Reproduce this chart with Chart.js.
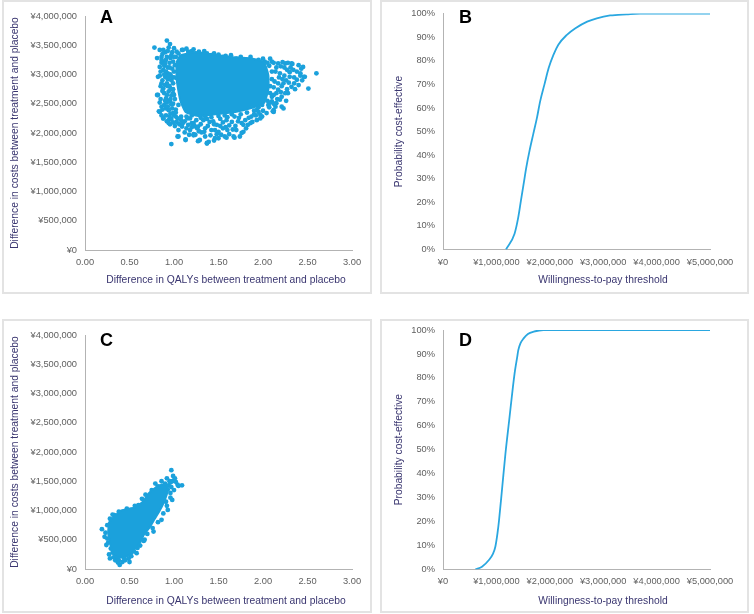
<!DOCTYPE html>
<html><head><meta charset="utf-8">
<script src="https://cdn.jsdelivr.net/npm/chart.js@4.4.1/dist/chart.umd.min.js"></script>
<style>
body{margin:0;background:#fff;}
#root{position:relative;width:754px;height:614px;overflow:hidden;font-family:"Liberation Sans",Arial,sans-serif;}
.box{position:absolute;border:2px solid #e3e3e3;box-sizing:border-box;}
canvas{position:absolute;}
.lbl{position:absolute;font:bold 18px/18px "Liberation Sans",Arial,sans-serif;color:#000;}
.xt{position:absolute;width:300px;text-align:center;font:10.3px/12px "Liberation Sans",Arial,sans-serif;color:#3a3670;white-space:nowrap;}
</style></head>
<body><div id="root">
<div class="box" style="left:2px;top:0px;width:370px;height:294px"></div>
<div class="box" style="left:380px;top:0px;width:369px;height:294px"></div>
<div class="box" style="left:2px;top:319px;width:370px;height:294px"></div>
<div class="box" style="left:380px;top:319px;width:369px;height:294px"></div>
<canvas id="cA" width="377" height="300" style="left:0;top:0"></canvas>
<canvas id="cB" width="377" height="300" style="left:377px;top:0"></canvas>
<canvas id="cC" width="377" height="314" style="left:0;top:300px"></canvas>
<canvas id="cD" width="377" height="314" style="left:377px;top:300px"></canvas>
<div class="lbl" style="left:100px;top:8px">A</div>
<div class="lbl" style="left:459px;top:8px">B</div>
<div class="lbl" style="left:100px;top:331px">C</div>
<div class="lbl" style="left:459px;top:331px">D</div>
<div class="xt" style="left:76px;top:274px">Difference in QALYs between treatment and placebo</div>
<div class="xt" style="left:453px;top:274px">Willingness-to-pay threshold</div>
<div class="xt" style="left:76px;top:595px">Difference in QALYs between treatment and placebo</div>
<div class="xt" style="left:453px;top:595px">Willingness-to-pay threshold</div>
</div>
<script>
// ---- tick labels ----
const qalyTicks = ['0.00','0.50','1.00','1.50','2.00','2.50','3.00'];
const costTicks = ['¥0','¥500,000','¥1,000,000','¥1,500,000','¥2,000,000','¥2,500,000','¥3,000,000','¥3,500,000','¥4,000,000'];
const wtpTicks = ['¥0','¥1,000,000','¥2,000,000','¥3,000,000','¥4,000,000','¥5,000,000'];
const probTicks = ['0%','10%','20%','30%','40%','50%','60%','70%','80%','90%','100%'];

// ---- Panel A: incremental QALYs vs incremental costs (cost in million yen) ----
const aCore = [[1.07,3.33],[1.24,3.38],[1.40,3.35],[1.63,3.30],[1.85,3.28],[2.01,3.21],[2.06,2.99],[2.06,2.74],[2.01,2.51],[1.88,2.43],[1.69,2.36],[1.46,2.32],[1.27,2.29],[1.13,2.36],[1.07,2.56],[1.03,2.91],[1.03,3.21],[1.07,3.33]];
const aCloud = [
[0.92,3.58],[0.955,3.52],[0.94,3.46],[0.78,3.46],[0.84,3.42],[0.86,3.30],[0.88,3.22],[0.84,3.13],[0.88,3.08],[0.82,2.96],[0.90,2.96],[0.92,2.85],[0.88,2.76],[0.94,2.71],[0.82,2.65],[0.91,2.59],[0.955,2.54],[0.86,2.45],[0.94,2.39],[0.84,2.36],[0.99,2.34],[0.88,2.25],[0.94,2.22],[0.955,2.15],[1.03,2.19],[1.09,2.11],[1.14,2.08],[1.05,1.94],[0.97,1.81],[1.13,1.88],[1.22,1.98],[1.27,1.86],[1.35,1.94],[1.37,1.82],[1.20,2.17],[1.26,2.08],[1.01,3.16],[1.03,2.94],[1.00,2.65],[1.05,2.48],[0.97,3.33],[1.03,3.39],[1.09,3.42],[1.16,3.39],[1.24,3.36],[1.31,3.33],[1.37,3.36],
[1.22,2.17],[1.27,2.11],[1.24,1.97],[1.29,1.88],[1.39,1.85],[1.46,1.91],[1.42,2.05],[1.50,2.02],[1.55,2.08],[1.48,2.14],[1.57,1.94],[1.67,1.94],[1.74,1.94],[1.70,2.05],[1.78,2.02],[1.76,2.17],[1.65,2.19],[1.83,2.14],[1.87,2.28],[1.97,2.25],[1.93,2.39],[2.04,2.34],[2.12,2.39],[2.15,2.51],[2.10,2.54],[1.99,2.48],[1.33,2.22],[1.59,2.22],[1.40,2.19],
[2.60,3.02],[2.45,3.13],[2.40,3.16],[2.32,3.19],[2.25,3.19],[2.17,3.19],[2.10,3.22],[2.02,3.22],[1.95,3.25],[2.51,2.76],[2.47,2.96],[2.42,3.02],[2.38,2.91],[2.34,3.08],[2.30,2.96],[2.40,2.82],[2.32,2.79],[2.28,2.68],[2.23,2.85],[2.21,2.62],[2.12,2.36],[2.27,3.08],[2.19,3.02],[2.13,2.88],[2.17,2.74],[2.10,2.62],[2.06,2.48],[1.99,2.28],[1.93,2.22],[2.23,2.42],
[0.92,3.30],[0.95,3.20],[0.98,3.10],[0.93,3.02],[0.97,2.90],[0.95,2.80],[0.99,2.75],[0.92,2.52],[0.98,2.42],[1.00,2.30],[1.04,2.25],[1.08,2.22],[0.90,3.38],[1.00,3.45],[0.86,3.20],[1.12,2.20],[1.18,2.25],[1.25,2.22],[1.30,2.26],[1.37,2.24],[1.44,2.20],[1.52,2.24],[1.60,2.27],[1.68,2.28],[1.75,2.32],[1.82,2.35],[1.90,2.38],[1.95,2.44],[2.05,2.55],[2.08,2.68],[2.12,2.78],[2.10,2.92],[2.14,3.05],[2.07,3.15],[1.10,3.42],[1.20,3.40],[1.45,3.36],[1.55,3.30],[1.70,3.27],[1.80,3.25],
[0.81,2.65],[0.83,2.37],[0.88,2.25],[0.94,2.17],[2.46,2.96],[2.33,3.18],[2.25,2.68],[2.11,2.37],[2.21,2.45],[1.97,2.31],[1.86,2.17],[0.81,3.28],[2.22,3.21],[1.04,1.94],[1.13,1.89],[1.22,1.96],[1.28,1.87],[1.37,1.83],[1.45,1.87],[1.50,1.91],[1.59,1.92],[1.68,1.92],[1.76,2.00],
[0.87,3.35],[0.91,3.25],[0.96,3.28],[0.89,3.15],[0.93,3.12],[0.99,3.22],[0.85,3.05],[0.91,3.05],[0.96,3.00],[1.00,3.05],[0.87,2.90],[0.93,2.92],[0.99,2.85],[0.85,2.80],[0.90,2.82],[0.96,2.75],[0.89,2.68],[0.97,2.64],[1.01,2.58],[0.85,2.58],[0.94,2.55],[0.89,2.48],[0.97,2.49],[1.02,2.40],[0.91,2.42],[0.96,2.33],[0.91,2.30],[1.02,2.28],[0.97,2.24],[1.06,2.15],[1.01,2.12],[1.10,2.17],[1.16,2.14],[1.05,2.05],[1.12,2.01],[1.18,2.05],
[1.23,2.12],[1.30,2.15],[1.35,2.08],[1.31,2.01],[1.38,2.12],[1.45,2.15],[1.52,2.12],[1.46,2.05],[1.53,1.97],[1.60,2.05],[1.62,2.13],[1.69,2.12],[1.72,2.20],[1.80,2.22],[1.81,2.08],[1.88,2.19],[1.92,2.30],[2.00,2.38],[2.07,2.44],[1.41,1.96],[1.62,1.98],[1.84,2.26],[1.55,2.18],[1.28,2.03],[1.17,1.97],
[2.08,3.27],[2.15,3.12],[2.20,3.14],[2.18,2.95],[2.24,2.98],[2.21,2.80],[2.26,2.90],[2.15,2.68],[2.19,2.57],[2.26,2.55],[2.29,2.86],[2.35,2.95],[2.36,2.75],[2.44,2.90],[2.31,3.12],[2.38,3.05],[2.43,3.10],[2.14,2.45],[2.08,2.52],[2.12,2.65],[2.17,2.85],[2.24,3.12],
[1.05,3.36],[1.14,3.44],[1.22,3.43],[1.28,3.39],[1.34,3.40],[1.42,3.33],[1.50,3.34],[1.58,3.32],[1.64,3.33],[1.75,3.30],[1.86,3.30],[1.92,3.22],[2.00,3.27],[1.02,3.30],[1.14,3.30],
[0.88,3.42],[0.93,3.40],[0.98,3.38],[0.86,3.25],[0.90,3.18],[0.95,3.12],[0.84,2.98],[0.89,3.00],[0.94,2.96],[0.98,2.95],[0.86,2.85],[0.93,2.80],[0.87,2.72],[0.92,2.65],[0.99,2.68],[0.84,2.52],[0.90,2.55],[0.96,2.58],[0.87,2.40],[0.93,2.45],[0.99,2.50],[0.86,2.30],[0.95,2.28],[0.92,2.20],[0.99,2.18],[1.02,2.35],[1.00,2.95],[1.00,3.30],
[1.08,2.28],[1.15,2.25],[1.20,2.30],[1.35,2.28],[1.42,2.27],[1.50,2.29],[1.57,2.30],[1.65,2.32],[1.73,2.26],[1.78,2.14],[1.34,2.02],[1.48,1.98],[1.58,2.10],[1.66,2.06],[1.90,2.32],[1.95,2.36],[1.20,2.10],[1.14,2.28],
[2.08,2.80],[2.10,3.05],[2.12,2.50],[2.16,2.58],[2.20,2.70],[2.22,2.92],[2.27,2.75],[2.30,3.04],[2.35,2.85],[2.05,3.20],[2.12,3.20],[2.28,3.20],[2.42,2.98]
];

// ---- Panel C ----
const cCore = [[0.27,0.80],[0.33,0.90],[0.41,1.00],[0.55,1.05],[0.65,1.15],[0.72,1.30],[0.82,1.42],[0.90,1.45],[0.93,1.38],[0.92,1.28],[0.88,1.12],[0.84,1.00],[0.78,0.85],[0.73,0.72],[0.66,0.58],[0.62,0.45],[0.55,0.33],[0.53,0.27],[0.45,0.20],[0.35,0.20],[0.31,0.28],[0.28,0.45],[0.26,0.62],[0.27,0.80]];
const cCloud = [
[0.19,0.68],[0.22,0.55],[0.24,0.41],[0.27,0.25],[0.34,0.15],[0.39,0.07],[0.42,0.12],[0.49,0.18],[0.58,0.27],[0.62,0.40],[0.67,0.50],[0.77,0.64],[0.86,0.84],[0.93,1.01],[0.98,1.18],[1.04,1.44],[0.99,1.59],[0.97,1.69],[0.90,1.46],[0.82,1.41],[0.77,1.29],[0.71,1.21],[0.60,1.09],[0.52,1.01],[0.41,0.95],[0.36,0.89],[0.32,0.81],[0.29,0.72],[0.44,0.98],[1.01,1.55],[1.05,1.42],[0.95,1.50],[0.93,1.36],[0.96,1.30],[1.00,1.35],[0.88,1.33],[0.85,1.20],[0.91,1.15],[0.79,1.10],[0.74,0.92],[0.70,0.80],[0.64,0.66],[0.55,0.30],[0.45,0.15],[0.31,0.28],[0.26,0.45],[0.33,0.92],[0.30,0.60],[0.35,0.20],[1.09,1.43],[0.98,1.50],[0.94,1.43],
[0.23,0.62],[0.25,0.75],[0.28,0.86],[0.31,0.93],[0.38,0.98],[0.47,1.03],[0.56,1.08],[0.64,1.20],[0.68,1.27],[0.75,1.35],[0.79,1.46],[0.86,1.50],[0.92,1.55],[0.96,1.48],[1.02,1.49],[0.97,1.40],[0.96,1.22],[0.92,1.08],[0.88,0.95],[0.82,0.80],[0.76,0.70],[0.70,0.60],[0.66,0.48],[0.59,0.36],[0.52,0.22],[0.44,0.18],[0.38,0.15],[0.32,0.20],[0.29,0.35],[0.25,0.52],[0.50,0.12],[0.37,0.11],[0.28,0.18]
];

// ---- Panels B & D: acceptability curves (WTP in million yen, probability %) ----
const bWtp  = [1.18,1.34,1.41,1.46,1.51,1.56,1.62,1.69,1.76,1.82,1.90,1.98,2.07,2.16,2.32,2.48,2.70,2.88,3.13,3.44,3.69,5.00];
const bProb = [0,6.7,13.7,20.8,27.8,34.8,41.8,48.9,55.9,62.9,70.0,77.0,82.6,86.8,91.0,93.8,96.6,98.0,99.2,99.7,100,100];
const dWtp  = [0.607,0.73,0.86,0.94,0.98,1.02,1.05,1.11,1.17,1.24,1.31,1.35,1.39,1.41,1.45,1.51,1.59,1.70,1.88,5.00];
const dProb = [0,1.1,3.9,6.7,9.4,15.0,20.6,34.5,48.5,62.4,76.3,83.3,88.8,91.6,94.4,96.5,98.3,99.3,100,100];

const BLUE = '#1ba1dc';
const LINE = '#2aa7e0';
const TICK = '#5f5f5f';
const TITLE = '#3a3670';
const AXIS = '#b3b3b3';
const FAM = '"Liberation Sans", Arial, sans-serif';

const toPts = arr => arr.map(p => ({x: p[0], y: p[1]}));
const zip = (xs, ys) => xs.map((x, i) => ({x, y: ys[i]}));

function axisBase(min, max, step, labels, extra) {
  return Object.assign({
    type: 'linear', min, max,
    grid: {display: false, drawTicks: false},
    border: {display: true, color: AXIS, width: 1},
    ticks: {stepSize: step, autoSkip: false, maxRotation: 0, color: TICK, padding: 7,
      font: {family: FAM, size: 9.3},
      callback: (v, i) => labels[i]}
  }, extra);
}

function scatterPanel(id, core, cloud, padTop, xH) {
  const y = axisBase(0, 4, 0.5, costTicks, {
    afterFit: s => { s.width = 85; },
    title: {display: true, text: 'Difference in costs between treatment and placebo', color: TITLE,
      font: {family: FAM, size: 10.3}, padding: {top: 8.8, bottom: 0}}
  });
  y.ticks.padding = 8;
  new Chart(document.getElementById(id), {
    type: 'scatter',
    data: {datasets: [
      {data: toPts(core), showLine: true, fill: 'shape', tension: 0.15, backgroundColor: BLUE, borderColor: BLUE, borderWidth: 2, pointRadius: 0},
      {data: toPts(cloud), backgroundColor: BLUE, borderWidth: 0, pointRadius: 2.4}
    ]},
    options: {
      responsive: false, animation: false, devicePixelRatio: 1,
      layout: {padding: {left: 0, top: padTop, right: 25, bottom: 0}},
      plugins: {legend: {display: false}, tooltip: {enabled: false}},
      scales: {
        x: axisBase(0, 3, 0.5, qalyTicks, {afterFit: s => { s.height = xH; }}),
        y: y
      }
    }
  });
}

function curvePanel(id, xs, ys, padTop, xH) {
  const y = axisBase(0, 100, 10, probTicks, {
    afterFit: s => { s.width = 66; },
    title: {display: true, text: 'Probability cost-effective', color: TITLE,
      font: {family: FAM, size: 10.3}, padding: {top: 15.5, bottom: 0}}
  });
  y.ticks.padding = 8;
  new Chart(document.getElementById(id), {
    type: 'scatter',
    data: {datasets: [
      {data: zip(xs, ys), showLine: true, borderColor: LINE, borderWidth: 1.8, pointRadius: 0, cubicInterpolationMode: 'monotone', fill: false}
    ]},
    options: {
      responsive: false, animation: false, devicePixelRatio: 1,
      layout: {padding: {left: 0, top: padTop, right: 44, bottom: 0}},
      plugins: {legend: {display: false}, tooltip: {enabled: false}},
      scales: {
        x: axisBase(0, 5, 1, wtpTicks, {afterFit: s => { s.height = xH; }}),
        y: y
      }
    }
  });
}

scatterPanel('cA', aCore, aCloud, 16, 50);
curvePanel('cB', bWtp, bProb, 12, 50.5);
scatterPanel('cC', cCore, cCloud, 35, 45);
curvePanel('cD', dWtp, dProb, 30, 44.7);
</script>
</body></html>
